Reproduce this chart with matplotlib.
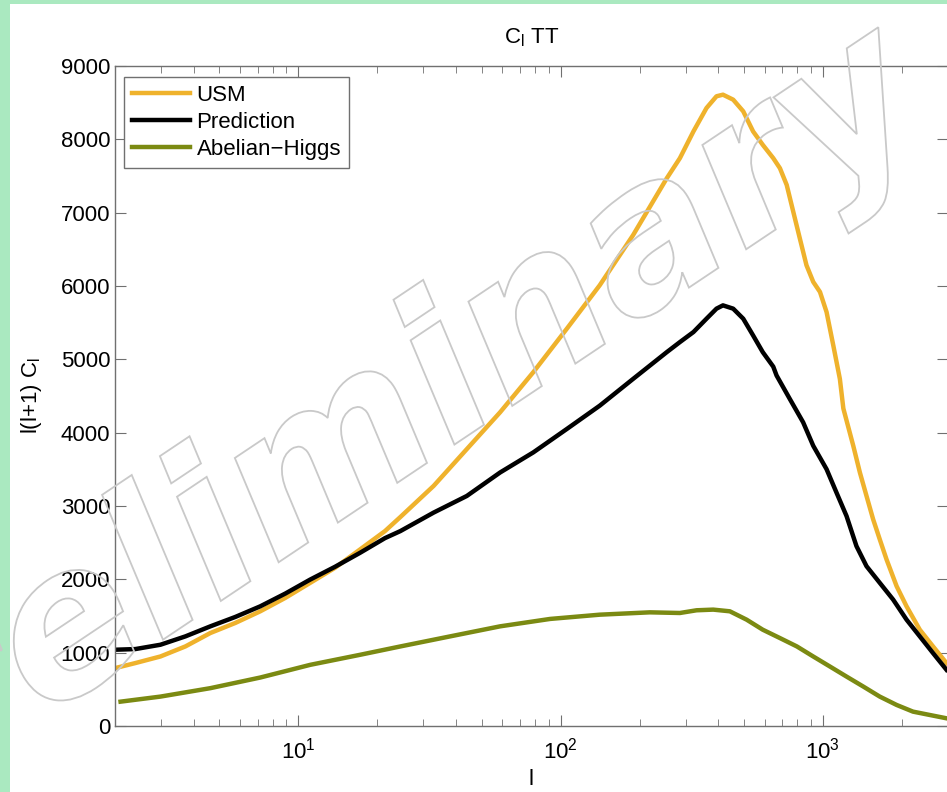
import numpy as np
import matplotlib
matplotlib.use("Agg")
import matplotlib.pyplot as plt
from matplotlib.patches import Rectangle, PathPatch
from matplotlib.textpath import TextPath
from matplotlib.font_manager import FontProperties
import matplotlib.transforms as mtransforms
from matplotlib.ticker import LogLocator, NullFormatter

# ---------------------------------------------
# spectra l(l+1) C_l (TT)
# ---------------------------------------------
l_usm = [2.0, 2.39, 2.98, 3.71, 4.62, 5.75, 7.16, 8.92, 11.1, 13.8, 17.2, 21.4, 24.5,
         32.8, 43.9, 58.8, 78.7, 105.6, 141, 189, 254, 285, 321, 360, 393, 416, 455,
         497, 542, 590, 647, 686, 728, 771, 817, 866, 919, 975, 1033, 1096, 1161,
         1197, 1306, 1384, 1467, 1555, 1648, 1749, 1911, 2085, 2342, 2631, 2961]
cl_usm = [789, 858, 948, 1085, 1268, 1405, 1564, 1747, 1952, 2157, 2408, 2658, 2850,
          3274, 3776, 4278, 4825, 5417, 6010, 6694, 7469, 7743, 8108, 8427, 8587, 8609, 8541,
          8382, 8108, 7925, 7743, 7606, 7378, 7014, 6648, 6283, 6056, 5919, 5645, 5189, 4733,
          4330, 3821, 3457, 3137, 2818, 2545, 2271, 1906, 1632, 1313, 1085, 858]

l_pred = [2.0, 2.39, 2.98, 3.71, 4.62, 5.75, 7.16, 8.92, 11.1, 13.8, 17.2, 21.4, 24.5,
          32.8, 43.9, 58.8, 78.7, 105.6, 141, 189, 254, 285, 321, 360, 393, 416, 455,
          497, 542, 590, 647, 666, 748, 841, 919, 1033, 1127, 1231, 1343, 1467, 1648,
          1853, 2085, 2342, 2631, 2961]
cl_pred = [1040, 1049, 1108, 1222, 1359, 1487, 1632, 1806, 1997, 2171, 2362, 2562, 2658,
           2910, 3137, 3457, 3731, 4050, 4368, 4733, 5098, 5235, 5372, 5554, 5691, 5736, 5691,
           5554, 5326, 5098, 4900, 4780, 4460, 4141, 3821, 3502, 3183, 2863, 2453, 2179, 1952,
           1724, 1450, 1222, 994, 766]

l_ah = [2.10, 2.98, 4.62, 7.16, 11.1, 17.2, 24.5, 37.9, 58.8, 91.2, 141, 219, 285, 330,
        382, 442, 512, 590, 686, 796, 919, 1064, 1231, 1426, 1648, 1911, 2206, 2559, 2961]
cl_ah = [332, 401, 516, 661, 834, 971, 1085, 1222, 1359, 1460, 1518, 1550, 1541, 1578,
         1587, 1564, 1450, 1313, 1199, 1085, 948, 811, 674, 538, 401, 287, 196, 150, 105]

labels = ["USM", "Prediction", "Abelian\u2212Higgs"]
colors = ["#efb22c", "#000000", "#7b8a12"]

plt.rcParams['font.family'] = ['Liberation Sans', 'DejaVu Sans']
plt.rcParams['mathtext.fontset'] = 'custom'
plt.rcParams['mathtext.rm'] = 'Liberation Sans'
plt.rcParams['mathtext.it'] = 'Liberation Sans:italic'

W, H = 947, 792
FS = 16
fig = plt.figure(figsize=(W / 100, H / 100), dpi=100)
fig.patch.set_facecolor("white")

# green frame strips on left and top
green = "#aae9c0"
fig.add_artist(Rectangle((0, 0), 10 / W, 1, transform=fig.transFigure,
                         facecolor=green, edgecolor="none", zorder=-5))
fig.add_artist(Rectangle((0, 1 - 4 / H), 1, 4 / H, transform=fig.transFigure,
                         facecolor=green, edgecolor="none", zorder=-5))

ax = fig.add_axes([115 / W, 66 / H, 833 / W, 660 / H])

for xs, ys, lab, c in zip([l_usm, l_pred, l_ah], [cl_usm, cl_pred, cl_ah], labels, colors):
    ax.plot(xs, ys, color=c, lw=3.2, label=lab, solid_joinstyle="round")

ax.set_xscale("log")
ax.set_xlim(2, 3000)
ax.set_ylim(0, 9000)
ax.set_yticks(np.arange(0, 9001, 1000))
ax.xaxis.set_major_locator(LogLocator(base=10, numticks=10))
ax.xaxis.set_minor_locator(LogLocator(base=10, subs=np.arange(2, 10), numticks=20))
ax.xaxis.set_minor_formatter(NullFormatter())

axcol = "#707070"
for s in ax.spines.values():
    s.set_color(axcol)
    s.set_linewidth(1.0)
ax.tick_params(which="both", direction="in", top=True, right=True, colors=axcol,
               labelcolor="black", labelsize=FS)
ax.tick_params(which="major", length=8)
ax.tick_params(which="minor", length=5)
ax.tick_params(axis="x", which="major", pad=8)

ax.set_title(r"C$_\mathregular{l}$ TT", fontsize=FS, pad=16)
ax.set_xlabel("l", fontsize=FS, labelpad=4)
ax.set_ylabel(r"l(l+1) C$_\mathregular{l}$", fontsize=FS, labelpad=12)

leg = ax.legend(loc="upper left", bbox_to_anchor=(0.011, 0.983), borderaxespad=0,
                fontsize=FS, handlelength=2.6, handletextpad=0.3, labelspacing=0.27,
                fancybox=False, framealpha=1, borderpad=0.36)
leg.get_frame().set_edgecolor(axcol)
leg.get_frame().set_linewidth(1.0)

# outlined watermark across the plot, on top of the curves
tp = TextPath((0, 0), "Preliminary", size=203,
              prop=FontProperties(family="DejaVu Sans", weight="bold", style="oblique"))
vb = tp.get_extents()
cx, cy = (vb.x0 + vb.x1) / 2, (vb.y0 + vb.y1) / 2
tr = mtransforms.Affine2D().translate(-cx, -cy).rotate_deg(33.8).translate(362, 352)
wm = PathPatch(tp, facecolor="none", edgecolor="#c9c9c9", lw=1.3, zorder=5)
wm.set_transform(tr)
fig.add_artist(wm)

fig.savefig("out.png", dpi=100)
